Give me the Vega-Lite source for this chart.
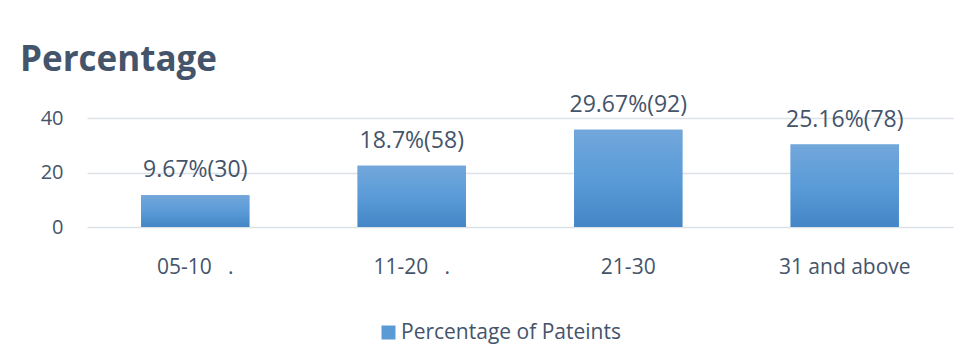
{
  "$schema": "https://vega.github.io/schema/vega-lite/v6.json",
  "width": 866,
  "height": 109,
  "autosize": {"type": "none"},
  "padding": {"left": 87, "top": 118, "right": 16, "bottom": 135},
  "background": "#ffffff",
  "title": {
    "text": "Percentage",
    "anchor": "start",
    "frame": "group",
    "dx": -67,
    "dy": 46,
    "baseline": "alphabetic",
    "offset": 34,
    "font": "Open Sans",
    "fontSize": 35,
    "fontWeight": "bold",
    "color": "#44546A"
  },
  "data": {
    "values": [
      {"age": "05-10\u00a0\u00a0\u00a0.", "share": 11.63, "label": "9.67%(30)", "series": "Percentage of Pateints"},
      {"age": "11-20\u00a0\u00a0\u00a0.", "share": 22.48, "label": "18.7%(58)", "series": "Percentage of Pateints"},
      {"age": "21-30", "share": 35.66, "label": "29.67%(92)", "series": "Percentage of Pateints"},
      {"age": "31 and above", "share": 30.23, "label": "25.16%(78)", "series": "Percentage of Pateints"}
    ]
  },
  "encoding": {
    "x": {
      "field": "age",
      "type": "nominal",
      "sort": null,
      "title": null,
      "scale": {"paddingInner": 0.5, "paddingOuter": 0.25},
      "axis": {
        "labelAngle": 0,
        "domain": false,
        "ticks": false,
        "tickSize": 0,
        "labelPadding": 46,
        "labelBaseline": "alphabetic",
        "labelFont": "Open Sans",
        "labelFontSize": 21,
        "labelColor": "#44546A"
      }
    },
    "y": {
      "field": "share",
      "type": "quantitative",
      "title": null,
      "scale": {"domain": [0, 40], "nice": false},
      "axis": {
        "values": [0, 20, 40],
        "domain": false,
        "ticks": false,
        "tickSize": 0,
        "labelPadding": 24,
        "labelFont": "Open Sans",
        "labelFontSize": 20,
        "labelColor": "#44546A",
        "gridColor": "#DCE1E7",
        "gridWidth": 1.5
      }
    }
  },
  "layer": [
    {
      "mark": {"type": "bar"},
      "encoding": {
        "color": {
          "field": "series",
          "type": "nominal",
          "scale": {"range": ["#5B9BD5"]},
          "legend": {
            "title": null,
            "orient": "none",
            "legendX": 291,
            "legendY": 204,
            "padding": 0,
            "symbolType": "square",
            "symbolSize": 196,
            "symbolStrokeWidth": 0,
            "labelOffset": 2,
            "labelLimit": 400,
            "labelFont": "Open Sans",
            "labelFontSize": 21,
            "labelColor": "#44546A"
          }
        }
      }
    },
    {
      "mark": {
        "type": "bar",
        "color": {
          "gradient": "linear",
          "x1": 0, "y1": 0, "x2": 0, "y2": 1,
          "stops": [
            {"offset": 0, "color": "#72A7DB"},
            {"offset": 0.5, "color": "#5A9BD8"},
            {"offset": 1, "color": "#4486C6"}
          ]
        }
      }
    },
    {
      "mark": {
        "type": "text",
        "baseline": "alphabetic",
        "dy": -18,
        "font": "Open Sans",
        "fontSize": 23,
        "color": "#44546A"
      },
      "encoding": {
        "text": {"field": "label"}
      }
    }
  ],
  "config": {
    "view": {"stroke": null}
  }
}
